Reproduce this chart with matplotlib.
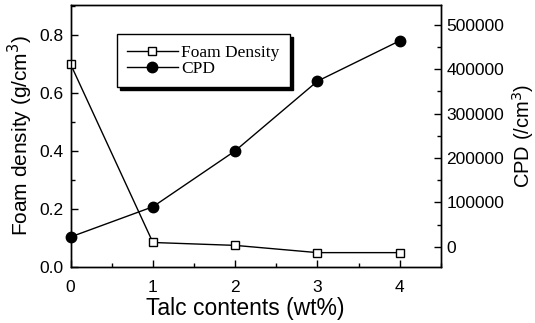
import matplotlib
matplotlib.use("Agg")
import matplotlib.pyplot as plt
from matplotlib.ticker import MultipleLocator

# data
talc = [0, 1, 2, 3, 4]
foam_density = [0.70, 0.085, 0.075, 0.05, 0.05]
cpd = [22000, 90000, 216000, 373000, 464000]

plt.rcParams['font.family'] = ['Liberation Sans', 'DejaVu Sans']


def style_axis(ax):
    ax.tick_params(which='both', direction='in', width=1, labelsize=12.5)
    ax.tick_params(which='major', length=5)
    ax.tick_params(which='minor', length=3)


fig = plt.figure(figsize=(5.35, 3.23), dpi=100)
ax = fig.add_axes([0.132, 0.173, 0.692, 0.812])
ax2 = ax.twinx()

l1, = ax.plot(talc, foam_density, color='black', lw=1, marker='s', ms=6,
              mfc='white', mec='black', mew=1, clip_on=False, zorder=3,
              label='Foam Density')
l2, = ax2.plot(talc, cpd, color='black', lw=1, marker='o', ms=7.5,
               mfc='black', mec='black', clip_on=False, zorder=3, label='CPD')

ax.set_xlim(0, 4.5)
ax.set_ylim(0, 0.905)
ax2.set_ylim(-46000, 545000)

ax.xaxis.set_major_locator(MultipleLocator(1))
ax.xaxis.set_minor_locator(MultipleLocator(0.5))
ax.yaxis.set_major_locator(MultipleLocator(0.2))
ax.yaxis.set_minor_locator(MultipleLocator(0.1))
ax.yaxis.set_major_formatter(lambda v, p: f"{v:.1f}")
ax2.yaxis.set_major_locator(MultipleLocator(100000))
ax2.yaxis.set_minor_locator(MultipleLocator(50000))
ax2.yaxis.set_major_formatter(lambda v, p: f"{int(round(v))}")

for a in (ax, ax2):
    style_axis(a)
    for s in a.spines.values():
        s.set_linewidth(1)
ax.tick_params(axis='x', which='both', pad=9)
ax.tick_params(axis='y', which='both', pad=5)
ax2.tick_params(axis='y', which='both', pad=4)

ax.set_xlabel('Talc contents (wt%)', fontsize=16.5, labelpad=2, x=0.473)
ax.set_ylabel('Foam density (g/cm$^3$)', fontsize=15, labelpad=3)
ax2.set_ylabel('CPD (/cm$^3$)', fontsize=14.5, labelpad=4)

leg = ax2.legend([l1, l2], ['Foam Density', 'CPD'], loc='upper left',
                 bbox_to_anchor=(0.125, 0.888), borderaxespad=0,
                 fancybox=False, edgecolor='black', framealpha=1,
                 shadow={'color': 'black', 'alpha': 1},
                 prop={'family': 'Liberation Serif', 'size': 12.5},
                 handlelength=2.9, handletextpad=0.2, labelspacing=0,
                 borderpad=0.6)
leg.get_frame().set_linewidth(1)

fig.savefig('out.png', dpi=100)
